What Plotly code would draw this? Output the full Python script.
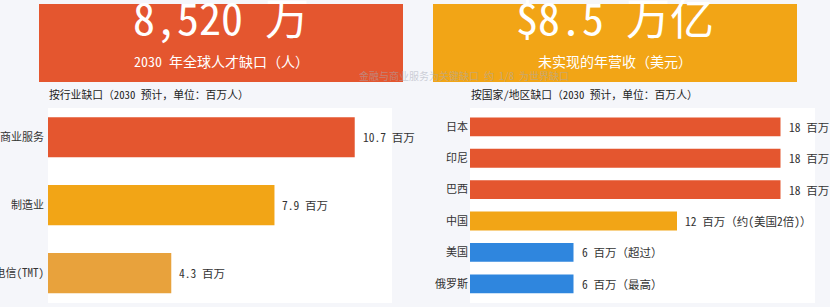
import plotly.graph_objects as go

# ---- data ----
industry_cats = ["金融与商业服务", "制造业", "科技、媒体和电信(TMT)"]
industry_vals = [10.7, 7.9, 4.3]
industry_text = ["10.7 百万", "7.9 百万", "4.3 百万"]

country_cats = ["日本", "印尼", "巴西", "中国", "美国", "俄罗斯"]
country_vals = [18, 18, 18, 12, 6, 6]
country_text = ["18 百万", "18 百万", "18 百万", "12 百万（约(美国2倍)）", "6 百万（超过）", "6 百万（最高）"]

kpi_values = ["8,520 万", "$8.5 万亿"]
kpi_labels = ["2030 年全球人才缺口（人）", "未实现的年营收（美元）"]

RED = "#E4562F"
YEL = "#F2A516"
LOR = "#E8A23C"
BLUE = "#2F86DE"
industry_colors = [RED, YEL, LOR]
country_colors = [RED, RED, RED, YEL, BLUE, BLUE]

FONT = "Noto Sans Mono CJK SC, Noto Sans CJK SC, sans-serif"
W, H = 830, 307

def px(x):
    return x / W

def py(y):
    return 1 - y / H

fig = go.Figure()
fig.add_trace(go.Bar(
    x=industry_vals, y=industry_cats, orientation="h",
    marker=dict(color=industry_colors, line=dict(width=0)),
    width=0.59, xaxis="x", yaxis="y", hoverinfo="skip",
))
fig.add_trace(go.Bar(
    x=country_vals, y=country_cats, orientation="h",
    marker=dict(color=country_colors, line=dict(width=0)),
    width=0.6, xaxis="x2", yaxis="y2", hoverinfo="skip",
))

# value labels placed on the data scale
for v, c, t in zip(industry_vals, industry_cats, industry_text):
    fig.add_annotation(xref="x", yref="y", x=v, y=c, text=t, showarrow=False,
                       xanchor="left", yanchor="middle", xshift=6,
                       font=dict(size=11.5, color="#333333", family=FONT))
for v, c, t in zip(country_vals, country_cats, country_text):
    fig.add_annotation(xref="x2", yref="y2", x=v, y=c, text=t, showarrow=False,
                       xanchor="left", yanchor="middle", xshift=6,
                       font=dict(size=11.5, color="#333333", family=FONT))

ydom = [py(303), py(108)]
fig.update_layout(
    width=W, height=H,
    margin=dict(l=0, r=0, t=0, b=0, autoexpand=False),
    paper_bgcolor="#F5F6FA",
    plot_bgcolor="#FFFFFF",
    showlegend=False,
    font=dict(family=FONT, color="#333333"),
    xaxis=dict(domain=[px(48), px(392)], range=[0, 12], visible=False, fixedrange=True,
               automargin=False),
    yaxis=dict(domain=ydom, range=[2.44, -0.43], type="category", automargin=False,
               showgrid=False, zeroline=False, showline=False, ticks="",
               ticklabelstandoff=3, tickfont=dict(size=11, color="#333333", family=FONT)),
    xaxis2=dict(domain=[px(470), px(815)], range=[0, 20], visible=False, fixedrange=True,
                anchor="y2", automargin=False),
    yaxis2=dict(domain=ydom, range=[5.61, -0.6], type="category", anchor="x2", automargin=False,
                showgrid=False, zeroline=False, showline=False, ticks="",
                ticklabelstandoff=1, tickfont=dict(size=11, color="#333333", family=FONT)),
)

# KPI cards
cards = [(39, 403, RED), (433, 797, YEL)]
for (x0, x1, c), val, lab in zip(cards, kpi_values, kpi_labels):
    fig.add_shape(type="rect", xref="paper", yref="paper",
                  x0=px(x0), x1=px(x1), y0=py(82), y1=py(4),
                  fillcolor=c, line=dict(width=0), layer="below")
    cx = px((x0 + x1) / 2)
    fig.add_annotation(xref="paper", yref="paper", x=cx, y=py(16),
                       text=val, showarrow=False, xanchor="center", yanchor="middle",
                       font=dict(size=44, color="#FFFFFF", family=FONT))
    fig.add_annotation(xref="paper", yref="paper", x=cx, y=py(61),
                       text=lab, showarrow=False, xanchor="center", yanchor="middle",
                       font=dict(size=14, color="#FFFFFF", family=FONT))

# faint overlay note
fig.add_annotation(xref="paper", yref="paper", x=px(357), y=py(75),
                   text="金融与商业服务为关键缺口 约 1/8 为世界缺口",
                   showarrow=False, xanchor="left", yanchor="middle",
                   font=dict(size=10, color="rgba(165,170,182,0.55)", family=FONT))

# section titles
fig.add_annotation(xref="paper", yref="paper", x=px(47), y=py(94),
                   text="按行业缺口（2030 预计，单位：百万人）",
                   showarrow=False, xanchor="left", yanchor="middle",
                   font=dict(size=10.8, color="#222222", family=FONT))
fig.add_annotation(xref="paper", yref="paper", x=px(469), y=py(94),
                   text="按国家/地区缺口（2030 预计，单位：百万人）",
                   showarrow=False, xanchor="left", yanchor="middle",
                   font=dict(size=10.8, color="#222222", family=FONT))

fig.write_html("out.html")
